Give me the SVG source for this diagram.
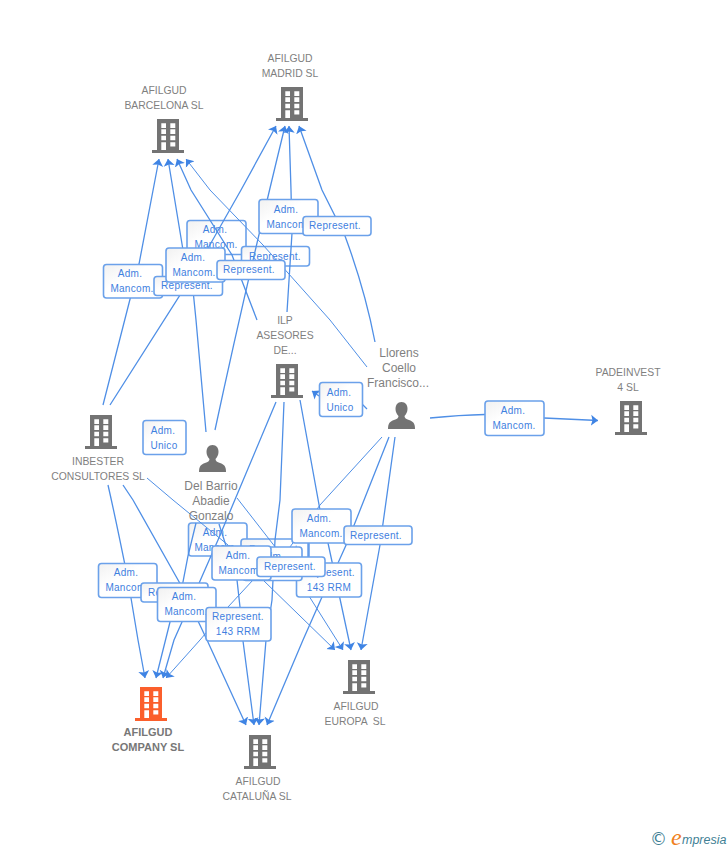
<svg xmlns="http://www.w3.org/2000/svg" width="728" height="850" viewBox="0 0 728 850">
<style>
.c{fill:none;stroke:#4f8fe6;stroke-width:1.3;marker-end:url(#a)}
.t{stroke-width:1}
.b{fill:url(#g);stroke:#6ba1ea;stroke-width:1.6}
.l{font:10px "Liberation Sans",Arial,sans-serif;letter-spacing:.3px;fill:#3f80e0;text-anchor:middle}
.n{font:10.4px "Liberation Sans",Arial,sans-serif;fill:#7f7f7f;text-anchor:middle}
.p{font-size:12px}
.m{font-weight:bold;font-size:11px;fill:#777}
</style>
<defs>
<linearGradient id="g" x1="0" y1="0" x2="1" y2="1"><stop offset="0" stop-color="#f1f1f1"/><stop offset=".4" stop-color="#fff"/><stop offset="1" stop-color="#fff"/></linearGradient>
<marker id="a" markerUnits="userSpaceOnUse" markerWidth="12" markerHeight="14" refX="7" refY="6" orient="auto"><path d="M0,0.500L7,6L0,11.500L1.500,6Z" fill="#3f84e4"/></marker>
<symbol id="bld" viewBox="0 0 32 34" overflow="visible"><path fill-rule="evenodd" d="M5,0H27V31H32V34H0V31H5ZM9.3,4.3V9H14V4.3ZM18.3,4.3V9H23.3V4.3ZM9.3,10.3V15H14V10.3ZM18.3,10.3V15H23.3V10.3ZM9.3,16.7V21.3H14V16.7ZM18.3,16.7V21.3H23.3V16.7ZM9.3,23.3V31H14V23.3ZM18.3,23.3V27.5H23.3V23.3Z"/></symbol>
<symbol id="psn" viewBox="0 0 27 27" overflow="visible"><path d="M13.5,0C9.5,0 7.5,3 7.5,7C7.5,10 9,12.5 10.5,14C10.5,16 9,17 6,18C2,19.5 0,21 0,27H27C27,21 25,19.5 21,18C18,17 16.5,16 16.5,14C18,12.5 19.5,10 19.5,7C19.5,3 17.5,0 13.5,0Z"/></symbol>
</defs>
<g id="labels-under">
<rect class="b" x="187" y="220.500" width="59" height="34" rx="3"/><text class="l" x="215" y="233">Adm.</text><text class="l" x="216" y="248">Mancom.</text>
<rect class="b" x="241.500" y="246.500" width="68" height="19.500" rx="3"/><text class="l" x="275" y="260">Represent.</text>
<rect class="b" x="188.500" y="523" width="58.500" height="33" rx="3"/><text class="l" x="215" y="536">Adm.</text><text class="l" x="216" y="551">Mancom.</text>
<rect class="b" x="241" y="539" width="68" height="20" rx="3"/><text class="l" x="275" y="553">Represent.</text>
</g>
<g id="connectors">
<path class="c" d="M103,405Q130,300 139,264L159,159"/>
<path class="c" d="M110,405L182,292L188,286L183,250L168,159"/>
<path class="c" d="M206,432L196,320L193,290L195,265L207,250L241,190L276,126"/>
<path class="c" d="M257,320L232,255L191,190L177,159"/>
<path class="c t" d="M367,367L330,320L263,245L210,190L186,159"/>
<path class="c" d="M215,430Q245,290 285,126"/>
<path class="c" d="M287,312L292,233L291,190L289,126"/>
<path class="c" d="M375,342Q365,290 345,236L322,190L299,126"/>
<path class="c" d="M108,485Q116,520 128,580L138,640L145,678"/>
<path class="c" d="M196,523L188,556L182,587L170,622L156,678"/>
<path class="c" d="M276,402L218,540L182,622L174,640L163,678"/>
<path class="c t" d="M382,437L320,505L270,575L253,580L228,607L200,640L166,678"/>
<path class="c" d="M123,485L133,500L182,587L198,621L207,640L246,725"/>
<path class="c" d="M219,524L237,580L240,607L243,641L254,725"/>
<path class="c" d="M284,402L280,500L275,540L272,600L266,640L259,725"/>
<path class="c" d="M389,437L347,543L338,563L322,597L303,640L267,725"/>
<path class="c t" d="M147,478L173,500L228,545L263,580L335,650"/>
<path class="c t" d="M237,498L283,557L297,577L343,650"/>
<path class="c" d="M300,400L320,510L328,543L351,650"/>
<path class="c" d="M395,437L380,545L361,650"/>
<path fill="none" stroke="#4f8fe6" stroke-width="1.300" d="M308,543V563"/>
<path class="c" d="M367,409L362,404M319,396L312,391"/>
<path class="c" d="M430,418Q460,415 485,414.500M544,418L598,420.500"/>
</g>
<g id="labels-over">
<rect class="b" x="103.500" y="264.500" width="59" height="33.500" rx="3"/><text class="l" x="130" y="277">Adm.</text><text class="l" x="132" y="292">Mancom.</text>
<rect class="b" x="154" y="276.500" width="68.500" height="19" rx="3"/><text class="l" x="187" y="289">Represent.</text>
<rect class="b" x="166" y="248" width="59" height="34" rx="3"/><text class="l" x="193" y="261">Adm.</text><text class="l" x="194" y="276">Mancom.</text>
<rect class="b" x="217" y="260.500" width="68" height="19" rx="3"/><text class="l" x="249" y="273">Represent.</text>
<rect class="b" x="259" y="199.500" width="59" height="34" rx="3"/><text class="l" x="286" y="213">Adm.</text><text class="l" x="288" y="228">Mancom.</text>
<rect class="b" x="303" y="216.500" width="68" height="19" rx="3"/><text class="l" x="335" y="229">Represent.</text>
<rect class="b" x="319.500" y="382.500" width="43" height="34" rx="3"/><text class="l" x="339" y="396">Adm.</text><text class="l" x="340" y="411">Unico</text>
<rect class="b" x="143" y="420.500" width="43" height="34" rx="3"/><text class="l" x="163" y="434">Adm.</text><text class="l" x="164" y="449">Unico</text>
<rect class="b" x="485" y="401" width="59" height="34.500" rx="3"/><text class="l" x="513" y="414">Adm.</text><text class="l" x="514" y="429">Mancom.</text>
<rect class="b" x="296.500" y="563" width="65" height="34" rx="3"/><text class="l" x="329" y="576">Represent.</text><text class="l" x="329" y="591">143 RRM</text>
<rect class="b" x="243" y="547" width="59" height="33.500" rx="3"/><text class="l" x="272" y="560">Adm.</text><text class="l" x="272" y="575">Mancom.</text>
<rect class="b" x="212" y="546" width="59" height="34" rx="3"/><text class="l" x="238" y="559">Adm.</text><text class="l" x="240" y="574">Mancom.</text>
<rect class="b" x="257" y="557" width="68" height="19.500" rx="3"/><text class="l" x="290" y="570">Represent.</text>
<rect class="b" x="292" y="509" width="59" height="34" rx="3"/><text class="l" x="319" y="522">Adm.</text><text class="l" x="321" y="537">Mancom.</text>
<rect class="b" x="344" y="526" width="68" height="18.500" rx="3"/><text class="l" x="376" y="539">Represent.</text>
<rect class="b" x="98.500" y="563.500" width="58.500" height="34" rx="3"/><text class="l" x="126" y="576">Adm.</text><text class="l" x="127" y="591">Mancom.</text>
<rect class="b" x="141" y="583" width="67" height="19" rx="3"/><text class="l" x="174" y="596">Represent.</text>
<rect class="b" x="157.500" y="587.500" width="58.500" height="34" rx="3"/><text class="l" x="184" y="600">Adm.</text><text class="l" x="186" y="615">Mancom.</text>
<rect class="b" x="206" y="607.500" width="65" height="33.500" rx="3"/><text class="l" x="238" y="620">Represent.</text><text class="l" x="238" y="635">143 RRM</text>
</g>
<g id="madrid" fill="#737373"><use href="#bld" x="276" y="87" width="32" height="34"/><text class="n" x="290" y="62">AFILGUD</text><text class="n" x="290" y="77">MADRID SL</text></g>
<g id="barcelona" fill="#737373"><use href="#bld" x="152" y="119" width="32" height="34"/><text class="n" x="164" y="94">AFILGUD</text><text class="n" x="164" y="109">BARCELONA SL</text></g>
<g id="ilp" fill="#737373"><use href="#bld" x="271" y="364" width="32" height="34"/><text class="n" x="285" y="324">ILP</text><text class="n" x="285" y="339">ASESORES</text><text class="n" x="285" y="354">DE...</text></g>
<g id="llorens" fill="#737373"><use href="#psn" x="388" y="402" width="27" height="27"/><text class="n p" x="399" y="357">Llorens</text><text class="n p" x="399" y="372">Coello</text><text class="n p" x="398" y="387">Francisco...</text></g>
<g id="padeinvest" fill="#737373"><use href="#bld" x="615" y="401" width="32" height="34"/><text class="n" x="628" y="376">PADEINVEST</text><text class="n" x="628" y="391">4 SL</text></g>
<g id="inbester" fill="#737373"><use href="#bld" x="85" y="415" width="32" height="34"/><text class="n" x="98" y="465">INBESTER</text><text class="n" x="98" y="480">CONSULTORES SL</text></g>
<g id="delbarrio" fill="#737373"><use href="#psn" x="199" y="445" width="27" height="27"/><text class="n p" x="211" y="490">Del Barrio</text><text class="n p" x="211" y="505">Abadie</text><text class="n p" x="211" y="520">Gonzalo</text></g>
<g id="company" fill="#fb5f2c"><use href="#bld" x="135" y="687" width="32" height="34"/><text class="n m" x="148" y="736">AFILGUD</text><text class="n m" x="148" y="751">COMPANY SL</text></g>
<g id="cataluna" fill="#737373"><use href="#bld" x="244" y="735" width="32" height="34"/><text class="n" x="258" y="785">AFILGUD</text><text class="n" x="257" y="800">CATALUÑA SL</text></g>
<g id="europa" fill="#737373"><use href="#bld" x="343" y="660" width="32" height="34"/><text class="n" x="356" y="710">AFILGUD</text><text class="n" x="355" y="725" xml:space="preserve">EUROPA  SL</text></g>
<g id="logo"><text x="650" y="845" font-family="'DejaVu Sans',sans-serif" font-size="17" fill="#3f7f95">©</text><text x="671" y="845" font-family="'Liberation Serif',serif" font-style="italic" font-size="24" fill="#f08020">e</text><text x="682" y="844" font-family="'Liberation Sans',sans-serif" font-style="italic" font-size="12.500" fill="#3f7f95">mpresia</text></g>
</svg>
